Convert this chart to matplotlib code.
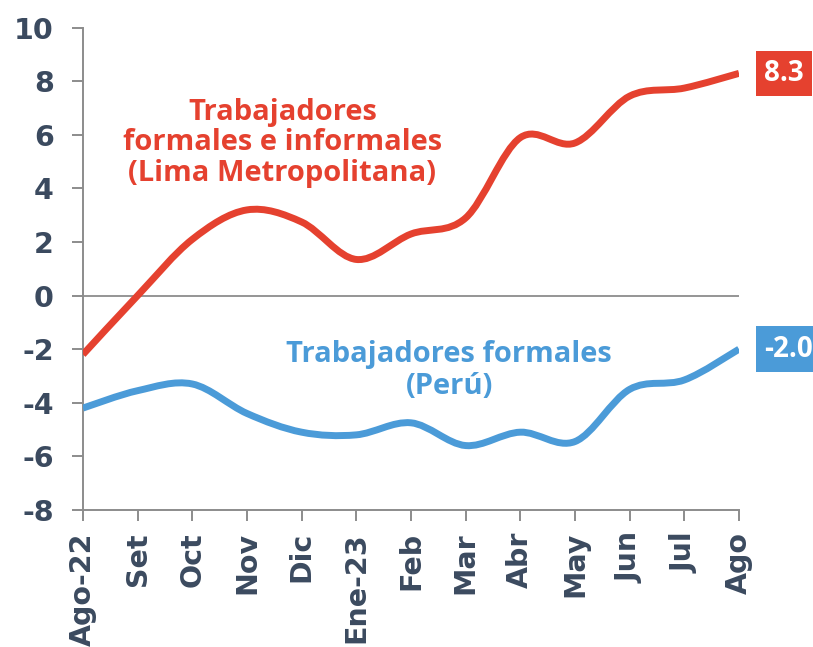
import matplotlib
matplotlib.use("Agg")
import matplotlib.pyplot as plt
import numpy as np
from matplotlib.path import Path
from matplotlib.patches import PathPatch

months = ["Ago-22", "Set", "Oct", "Nov", "Dic", "Ene-23", "Feb", "Mar", "Abr", "May", "Jun", "Jul", "Ago"]
lima_total = [-2.2, 0.0, 2.1, 3.2, 2.75, 1.35, 2.3, 2.9, 5.9, 5.7, 7.45, 7.75, 8.3]
peru_formal = [-4.2, -3.55, -3.3, -4.4, -5.1, -5.2, -4.75, -5.6, -5.1, -5.45, -3.5, -3.15, -2.0]
yticks = [-8, -6, -4, -2, 0, 2, 4, 6, 8, 10]

RED = "#e5412f"
BLUE = "#4b9bd8"
TXT = "#3b4a5f"
GRAY = "#8c8c8c"
FONT = "Open Sans"
TICKFONT = "DejaVu Sans"

fig = plt.figure(figsize=(8.13, 6.47), dpi=100)
ax = fig.add_axes([0.102, 0.212, 0.807, 0.745])


def smooth_path(x, y):
    x = np.asarray(x, float)
    y = np.asarray(y, float)
    n = len(x)
    verts = [(x[0], y[0])]
    codes = [Path.MOVETO]
    t = 1.0 / 6.0
    for i in range(n - 1):
        p0 = (x[max(i - 1, 0)], y[max(i - 1, 0)])
        p1 = (x[i], y[i])
        p2 = (x[i + 1], y[i + 1])
        p3 = (x[min(i + 2, n - 1)], y[min(i + 2, n - 1)])
        c1 = (p1[0] + (p2[0] - p0[0]) * t, p1[1] + (p2[1] - p0[1]) * t)
        c2 = (p2[0] - (p3[0] - p1[0]) * t, p2[1] - (p3[1] - p1[1]) * t)
        verts += [c1, c2, p2]
        codes += [Path.CURVE4] * 3
    return Path(verts, codes)


xs = np.arange(len(months))
for vals, col in [(lima_total, RED), (peru_formal, BLUE)]:
    patch = PathPatch(smooth_path(xs, vals), facecolor="none", edgecolor=col,
                      lw=5.0, capstyle="butt", joinstyle="round", zorder=3)
    ax.add_patch(patch)

ax.axhline(0, color=GRAY, lw=1.3, zorder=1)

ax.set_xlim(0, len(months) - 1)
ax.set_ylim(-8, 10)
ax.set_yticks(yticks)
ax.set_yticklabels([str(v) for v in yticks])
ax.set_xticks(xs)
ax.set_xticklabels(months, rotation=90)

for s in ["top", "right"]:
    ax.spines[s].set_visible(False)
for s in ["left", "bottom"]:
    ax.spines[s].set_color(GRAY)
    ax.spines[s].set_linewidth(1.4)
ax.tick_params(axis="both", color=GRAY, width=1.4, length=8, direction="out")
ax.tick_params(axis="y", pad=13)
ax.tick_params(axis="x", pad=8)
for lab in ax.get_yticklabels():
    lab.set_fontfamily(TICKFONT)
    lab.set_fontweight("bold")
    lab.set_fontsize(20.5)
    lab.set_color(TXT)
for lab in ax.get_xticklabels():
    lab.set_fontfamily(TICKFONT)
    lab.set_fontweight("bold")
    lab.set_fontsize(20.5)
    lab.set_color(TXT)

ax.text(3.65, 5.7, "Trabajadores\nformales e informales\n(Lima Metropolitana)",
        ha="center", va="center", color=RED, fontsize=21, fontweight="bold",
        family=FONT, linespacing=1.08)
ax.text(6.7, -2.8, "Trabajadores formales\n(Perú)", ha="center", va="center",
        color=BLUE, fontsize=21, fontweight="bold", family=FONT, linespacing=1.12)

ax.text(12.46, lima_total[-1], f"{lima_total[-1]:.1f}", ha="left", va="center",
        color="white", fontsize=20, fontweight="bold", family=FONT, clip_on=False,
        bbox=dict(boxstyle="square,pad=0.3", facecolor=RED, edgecolor="none"))
ax.text(12.46, peru_formal[-1], f"{peru_formal[-1]:.1f}", ha="left", va="center",
        color="white", fontsize=20, fontweight="bold", family=FONT, clip_on=False,
        bbox=dict(boxstyle="square,pad=0.3", facecolor=BLUE, edgecolor="none"))

fig.savefig("out.png", dpi=100, facecolor="white")
